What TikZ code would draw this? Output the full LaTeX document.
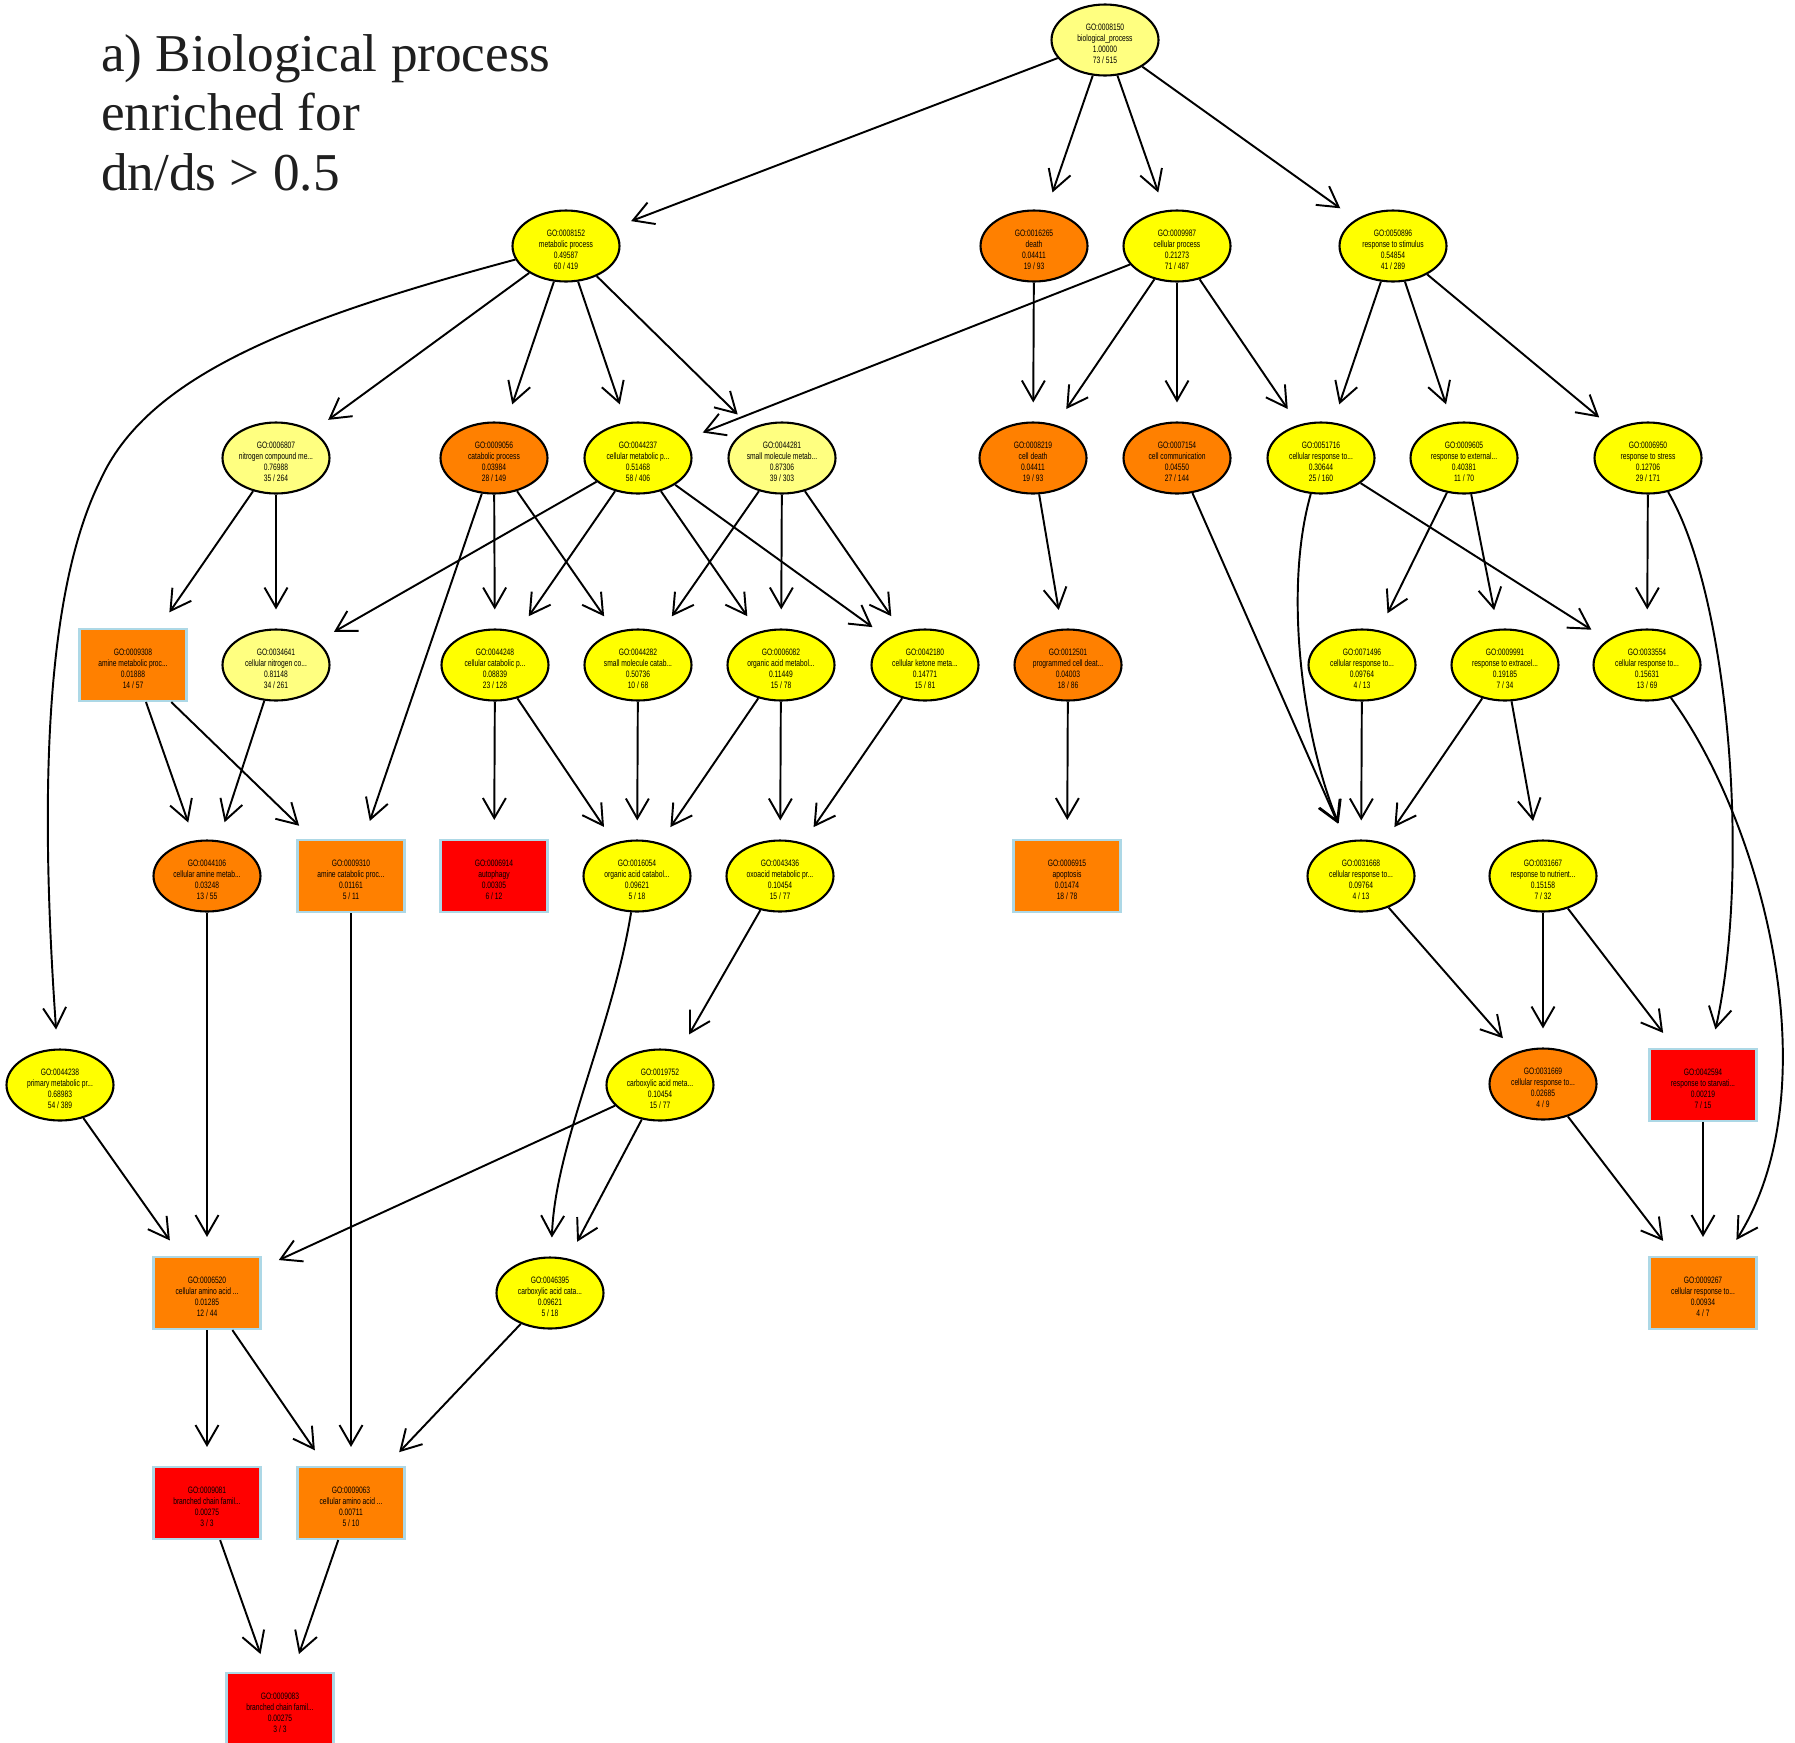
\documentclass[tikz,border=0pt]{standalone}
\usepackage{fontspec}
\setmainfont{Liberation Sans}
\newfontfamily\nodefont[FakeStretch=0.72]{Liberation Sans}
\newfontfamily\titlefont{Liberation Serif}
\usetikzlibrary{shapes.geometric,arrows.meta}
\definecolor{paleY}{HTML}{FFFF80}
\definecolor{yel}{HTML}{FFFF00}
\definecolor{org}{HTML}{FF8000}
\definecolor{redc}{HTML}{FF0000}
\definecolor{boxedge}{HTML}{ADD8E6}
\begin{document}
\begin{tikzpicture}[x=0.02cm,y=-0.02cm,
  go/.style={font=\nodefont\fontsize{5.3pt}{6.25pt}\selectfont, align=center, inner sep=0pt, text=black},
  lab/.style={label={[go, yshift=-0.08cm]center:{#1}}},
  ell/.style={ellipse, draw=black, line width=1.2pt, minimum width=2.14cm, minimum height=1.42cm, inner sep=0pt},
  box/.style={rectangle, draw=boxedge, line width=1.2pt, minimum width=2.14cm, minimum height=1.44cm, inner sep=0pt},
  edge/.style={line width=1.1pt, -{Straight Barb[length=0.4cm,width=0.46cm]}, shorten >=0.38cm}]
\useasboundingbox (0,0) rectangle (1795,1742);

\node[anchor=base west, align=left, font=\titlefont\fontsize{30.3pt}{33.8pt}\selectfont, text=black!88] (title) at (95,190)
  {a) Biological process\\enriched for\\dn/ds > 0.5};

% row 0
\node[ell, fill=paleY, lab={GO:0008150\\biological\_process\\1.00000\\73 / 515}] (bp) at (1105,40) {};
% row 1
\node[ell, fill=yel, lab={GO:0008152\\metabolic process\\0.49587\\60 / 419}] (mp) at (566,246) {};
\node[ell, fill=org, lab={GO:0016265\\death\\0.04411\\19 / 93}] (dth) at (1034,246) {};
\node[ell, fill=yel, lab={GO:0009987\\cellular process\\0.21273\\71 / 487}] (cp) at (1177,246) {};
\node[ell, fill=yel, lab={GO:0050896\\response to stimulus\\0.54854\\41 / 289}] (rs) at (1393,246) {};
% row 2
\node[ell, fill=paleY, lab={GO:0006807\\nitrogen compound me...\\0.76988\\35 / 264}] (ncm) at (276,458) {};
\node[ell, fill=org, lab={GO:0009056\\catabolic process\\0.03984\\28 / 149}] (cat) at (494,458) {};
\node[ell, fill=yel, lab={GO:0044237\\cellular metabolic p...\\0.51468\\58 / 406}] (cmp) at (638,458) {};
\node[ell, fill=paleY, lab={GO:0044281\\small molecule metab...\\0.87306\\39 / 303}] (smm) at (782,458) {};
\node[ell, fill=org, lab={GO:0008219\\cell death\\0.04411\\19 / 93}] (cd) at (1033,458) {};
\node[ell, fill=org, lab={GO:0007154\\cell communication\\0.04550\\27 / 144}] (cc) at (1177,458) {};
\node[ell, fill=yel, lab={GO:0051716\\cellular response to...\\0.30644\\25 / 160}] (cr1) at (1321,458) {};
\node[ell, fill=yel, lab={GO:0009605\\response to external...\\0.40381\\11 / 70}] (rex) at (1464,458) {};
\node[ell, fill=yel, lab={GO:0006950\\response to stress\\0.12706\\29 / 171}] (rst) at (1648,458) {};
% row 3
\node[box, fill=org, lab={GO:0009308\\amine metabolic proc...\\0.01888\\14 / 57}] (amp) at (133,665) {};
\node[ell, fill=paleY, lab={GO:0034641\\cellular nitrogen co...\\0.81148\\34 / 261}] (cnc) at (276,665) {};
\node[ell, fill=yel, lab={GO:0044248\\cellular catabolic p...\\0.08839\\23 / 128}] (ccp) at (495,665) {};
\node[ell, fill=yel, lab={GO:0044282\\small molecule catab...\\0.50736\\10 / 68}] (smc) at (638,665) {};
\node[ell, fill=yel, lab={GO:0006082\\organic acid metabol...\\0.11449\\15 / 78}] (oam) at (781,665) {};
\node[ell, fill=yel, lab={GO:0042180\\cellular ketone meta...\\0.14771\\15 / 81}] (ckm) at (925,665) {};
\node[ell, fill=org, lab={GO:0012501\\programmed cell deat...\\0.04003\\18 / 86}] (pcd) at (1068,665) {};
\node[ell, fill=yel, lab={GO:0071496\\cellular response to...\\0.09764\\4 / 13}] (cr2) at (1362,665) {};
\node[ell, fill=yel, lab={GO:0009991\\response to extracel...\\0.19185\\7 / 34}] (rec) at (1505,665) {};
\node[ell, fill=yel, lab={GO:0033554\\cellular response to...\\0.15631\\13 / 69}] (cr3) at (1647,665) {};
% row 4
\node[ell, fill=org, lab={GO:0044106\\cellular amine metab...\\0.03248\\13 / 55}] (cam) at (207,876) {};
\node[box, fill=org, lab={GO:0009310\\amine catabolic proc...\\0.01161\\5 / 11}] (acp) at (351,876) {};
\node[box, fill=redc, lab={GO:0006914\\autophagy\\0.00305\\6 / 12}] (aut) at (494,876) {};
\node[ell, fill=yel, lab={GO:0016054\\organic acid catabol...\\0.09621\\5 / 18}] (oac) at (637,876) {};
\node[ell, fill=yel, lab={GO:0043436\\oxoacid metabolic pr...\\0.10454\\15 / 77}] (oxo) at (780,876) {};
\node[box, fill=org, lab={GO:0006915\\apoptosis\\0.01474\\18 / 78}] (apo) at (1067,876) {};
\node[ell, fill=yel, lab={GO:0031668\\cellular response to...\\0.09764\\4 / 13}] (cr4) at (1361,876) {};
\node[ell, fill=yel, lab={GO:0031667\\response to nutrient...\\0.15158\\7 / 32}] (rnu) at (1543,876) {};
% row 5
\node[ell, fill=yel, lab={GO:0044238\\primary metabolic pr...\\0.68983\\54 / 389}] (pri) at (60,1085) {};
\node[ell, fill=yel, lab={GO:0019752\\carboxylic acid meta...\\0.10454\\15 / 77}] (cam2) at (660,1085) {};
\node[ell, fill=org, lab={GO:0031669\\cellular response to...\\0.02685\\4 / 9}] (cr5) at (1543,1084) {};
\node[box, fill=redc, lab={GO:0042594\\response to starvati...\\0.00219\\7 / 15}] (rsv) at (1703,1085) {};
% row 6
\node[box, fill=org, lab={GO:0006520\\cellular amino acid ...\\0.01285\\12 / 44}] (caa) at (207,1293) {};
\node[ell, fill=yel, lab={GO:0046395\\carboxylic acid cata...\\0.09621\\5 / 18}] (cac) at (550,1293) {};
\node[box, fill=org, lab={GO:0009267\\cellular response to...\\0.00934\\4 / 7}] (cr6) at (1703,1293) {};
% row 7
\node[box, fill=redc, lab={GO:0009081\\branched chain famil...\\0.00275\\3 / 3}] (bcf) at (207,1503) {};
\node[box, fill=org, lab={GO:0009063\\cellular amino acid ...\\0.00711\\5 / 10}] (caa2) at (351,1503) {};
% row 8
\node[box, fill=redc, lab={GO:0009083\\branched chain famil...\\0.00275\\3 / 3}] (bcf2) at (280,1709) {};

% straight edges
\foreach \a/\b in {bp/mp, bp/dth, bp/cp, bp/rs,
  mp/ncm, mp/cat, mp/cmp, mp/smm,
  dth/cd, cp/cmp, cp/cd, cp/cc, cp/cr1,
  rs/cr1, rs/rex, rs/rst,
  ncm/amp, ncm/cnc, cat/acp, cat/ccp, cat/smc,
  cmp/cnc, cmp/ccp, cmp/oam, cmp/ckm,
  smm/smc, smm/oam, smm/ckm,
  cd/pcd, cc/cr4, cr1/cr3, rex/cr2, rex/rec, rst/cr3,
  amp/cam, amp/acp, cnc/cam, ccp/aut, ccp/oac, smc/oac,
  oam/oac, oam/oxo, ckm/oxo, pcd/apo, cr2/cr4, rec/cr4, rec/rnu,
  cam/caa, acp/caa2, oxo/cam2, cr4/cr5, rnu/cr5, rnu/rsv,
  pri/caa, cam2/caa, cam2/cac, cr5/cr6, rsv/cr6,
  caa/bcf, caa/caa2, cac/caa2, bcf/bcf2, caa2/bcf2}
  \draw[edge] (\a) -- (\b);

% curved edges
\coordinate (w1) at (100,481);
\draw[edge] (mp) .. controls (286,321) and (146,378) .. (w1) .. controls (44,595) and (40,801) .. (pri);
\draw[edge] (cr1) .. controls (1282,595) and (1305,744) .. (cr4);
\draw[edge] (rst) .. controls (1729,595) and (1751,870) .. (rsv);
\draw[edge] (cr3) .. controls (1763,824) and (1832,1088) .. (cr6);
\draw[edge] (oac) .. controls (612,1030) and (555,1145) .. (cac);
\end{tikzpicture}
\end{document}
